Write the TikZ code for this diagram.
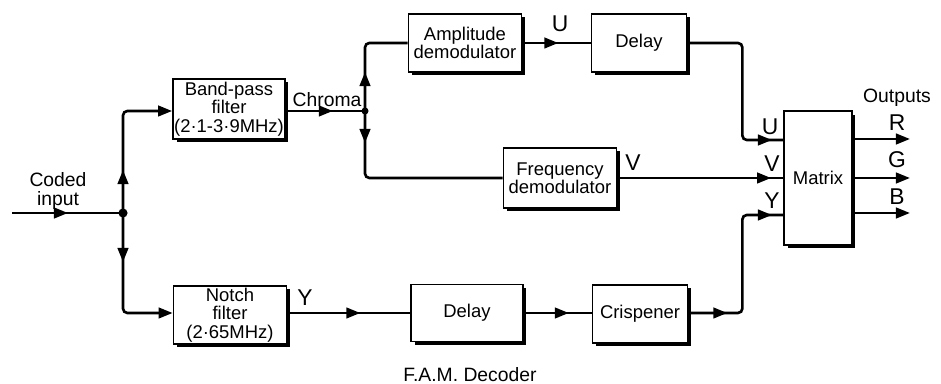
\documentclass[tikz,border=0pt]{standalone}
\usepackage{fontspec}
\setmainfont{Liberation Sans}
\usetikzlibrary{arrows.meta,positioning,shadows,decorations.markings}
\tikzset{
  blockbox/.style={draw,line width=1pt,fill=white,align=center,inner sep=0pt,
    font=\fontsize{10.5}{10.5}\selectfont,
    drop shadow={shadow xshift=0.07cm,shadow yshift=-0.07cm,opacity=1,fill=black}},
  wire/.style={line width=1.5pt,rounded corners=2.5pt},
  tipat/.style={postaction={decorate,decoration={markings,
    mark=at position #1 with {\arrow{Triangle[length=8pt,width=6pt]}}}}},
  tipend/.style={-{Triangle[length=8pt,width=6pt]}},
  lbl/.style={align=center,inner sep=1pt,font=\fontsize{11}{11}\selectfont},
  sig/.style={inner sep=1pt,font=\fontsize{13}{13}\selectfont}
}
\begin{document}
\begin{tikzpicture}[x=0.02cm,y=-0.02cm]
  \useasboundingbox (0,0) rectangle (941,384);
  % blocks
  \node[blockbox,minimum width=2.24cm,minimum height=1.2cm] (bpf) at (229,109) {Band-pass\\filter\\(2·1-3·9MHz)};
  \node[blockbox,minimum width=2.26cm,minimum height=1.16cm] (amp) at (465,43) {Amplitude\\demodulator};
  \node[blockbox,minimum width=1.9cm,minimum height=1.16cm] (dlyu) at (639,43) {Delay};
  \node[blockbox,minimum width=2.26cm,minimum height=1.2cm] (freq) at (560,178) {Frequency\\demodulator};
  \node[blockbox,minimum width=1.36cm,minimum height=2.68cm] (mtx) at (818,178) {Matrix};
  \node[blockbox,minimum width=2.26cm,minimum height=1.16cm] (notch) at (230,315) {Notch\\filter\\(2·65MHz)};
  \node[blockbox,minimum width=2.24cm,minimum height=1.14cm] (dlyy) at (467,313) {Delay};
  \node[blockbox,minimum width=1.9cm,minimum height=1.16cm] (crisp) at (640,314) {Crispener};
  % junctions and free ends
  \coordinate (src) at (12,213);
  \coordinate (split) at (123,213);
  \coordinate (cj) at (365,111);
  \coordinate (mU) at (784,140);
  \coordinate (mY) at (784,215);
  \coordinate (oR) at (910,139);
  \coordinate (oG) at (910,178);
  \coordinate (oB) at (910,213);
  % connectors
  \draw[wire,tipat=1.12cm] (src) -- (split);
  \draw[wire,tipat=0.86cm,tipend] (split) |- (bpf.west |- cj);
  \draw[wire,tipat=0.98cm,tipend] (split) |- (notch.west |- dlyy.west);
  \draw[wire,tipat=0.94cm] (bpf.east |- cj) -- (cj);
  \draw[wire,tipat=0.78cm] (cj) |- (amp.west);
  \draw[wire,tipat=0.64cm] (cj) |- (freq.west);
  \draw[wire,tipat=0.72cm] (amp.east) -- (dlyu.west);
  \draw[wire,tipat=-0.24cm] (dlyu.east) -- ++(55,0) |- (mU);
  \draw[wire,tipat=-0.24cm] (freq.east) -- (mtx.west);
  \draw[wire,tipat=1.46cm] (notch.east |- dlyy.west) -- (dlyy.west);
  \draw[wire,tipat=0.9cm] (dlyy.east) -- (crisp.west |- dlyy.east);
  \draw[wire,tipat=0.78cm,tipat=-0.24cm] (crisp.east |- dlyy.east) -- ++(54,0) |- (mY);
  \draw[wire,tipend] (mtx.east |- oR) -- (oR);
  \draw[wire,tipend] (mtx.east |- oG) -- (oG);
  \draw[wire,tipend] (mtx.east |- oB) -- (oB);
  \fill (split) circle (2.6pt);
  \fill (cj) circle (2pt);
  % labels
  \node[lbl] (lcoded) at (58,191) {Coded\\input};
  \node[lbl] (lchroma) at (327,100) {Chroma};
  \node[sig] (lu) at (560,24) {U};
  \node[sig] (lv) at (633,163) {V};
  \node[sig] (lmu) at (770,127) {U};
  \node[sig] (lmv) at (772,164) {V};
  \node[sig] (lmy) at (772,201) {Y};
  \node[sig] (ly) at (305,298) {Y};
  \node[lbl] (lout) at (897,98) {Outputs};
  \node[sig] (lr) at (897,123) {R};
  \node[sig] (lg) at (897,160) {G};
  \node[sig] (lb) at (897,197) {B};
  \node[lbl] (title) at (470,375) {F.A.M. Decoder};
\end{tikzpicture}
\end{document}
